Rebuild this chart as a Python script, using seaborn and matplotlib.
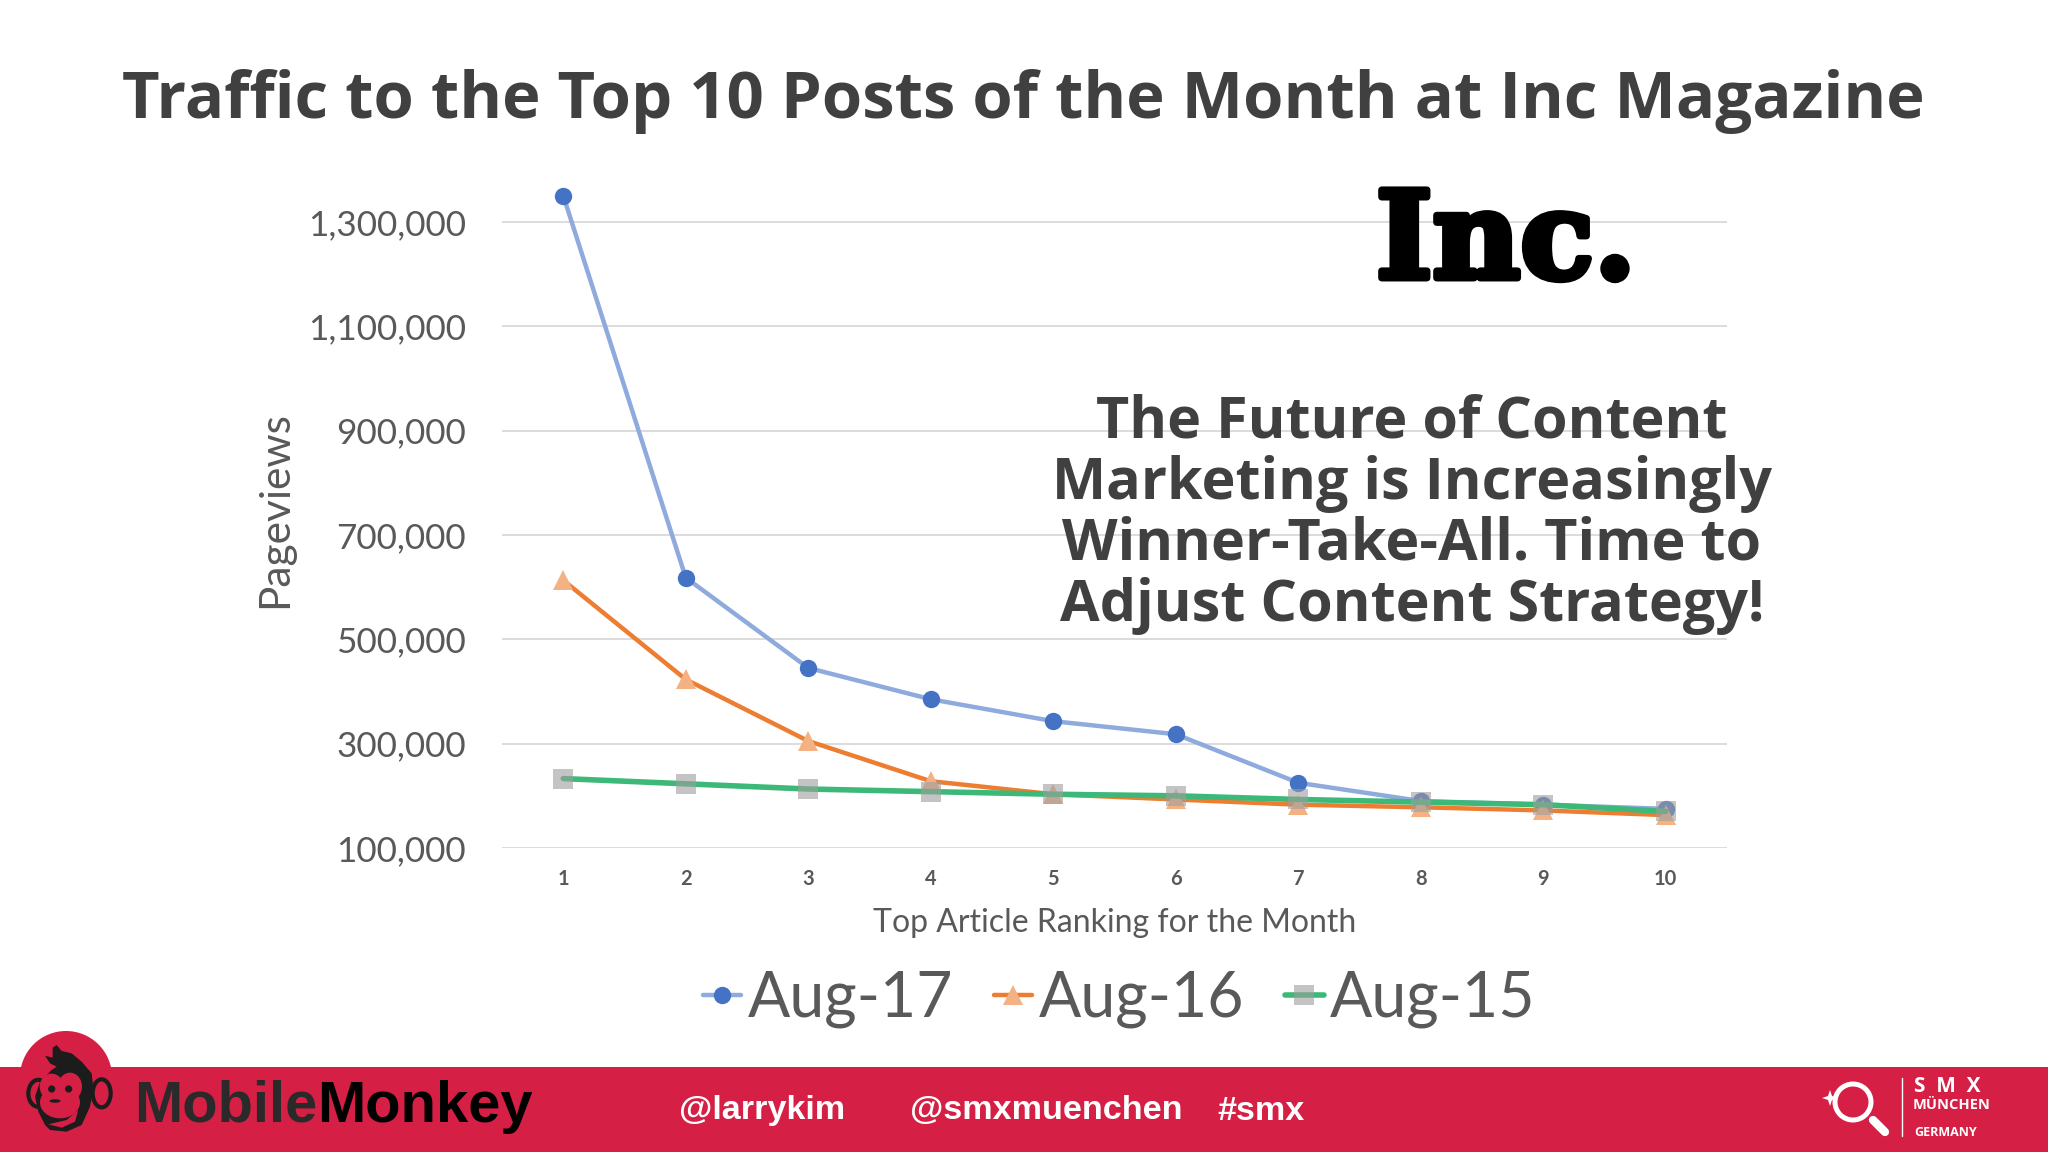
import matplotlib
matplotlib.use("Agg")
import matplotlib.pyplot as plt
import matplotlib.patheffects as pe
from matplotlib.patches import Circle, Ellipse, Polygon, Rectangle
from matplotlib.ticker import FuncFormatter
import seaborn as sns

ranks = [1, 2, 3, 4, 5, 6, 7, 8, 9, 10]
aug_17 = [1350000, 618000, 445000, 385000, 343000, 318000, 225000, 190000, 183000, 175000]
aug_16 = [613000, 423000, 305000, 228000, 203000, 193000, 183000, 178000, 172000, 163000]
aug_15 = [233000, 223000, 213000, 208000, 203000, 200000, 193000, 188000, 183000, 170000]
y_ticks = [100000, 300000, 500000, 700000, 900000, 1100000, 1300000]

W, H = 2048, 1152
DARK = "#404040"
GREY = "#595959"
RED = "#d61f45"

sns.set_theme(style="white")
plt.rcParams["font.family"] = ["Lato", "DejaVu Sans"]

fig = plt.figure(figsize=(W / 100, H / 100), dpi=100, facecolor="white")

# chart area, ylim is chosen so the 100k gridline sits on the bottom edge
top_px, bottom_px, left_px, right_px = 180, 848, 502, 1727
ax = fig.add_axes([left_px / W, 1 - bottom_px / H, (right_px - left_px) / W, (bottom_px - top_px) / H])

sns.lineplot(x=ranks, y=aug_17, ax=ax, color="#8faadc", lw=3.2, marker="o", ms=12.5,
             markerfacecolor="#4472c4", markeredgewidth=0, label="Aug-17", errorbar=None, zorder=3)
sns.lineplot(x=ranks, y=aug_16, ax=ax, color="#ed7d31", lw=3.2, marker="^", ms=14,
             markerfacecolor="#f4b183", markeredgewidth=0, label="Aug-16", errorbar=None, zorder=4)
sns.lineplot(x=ranks, y=aug_15, ax=ax, color="#3cb878", lw=4, marker="s", ms=14.5,
             markerfacecolor=(0.62, 0.62, 0.62, 0.6), markeredgewidth=0, label="Aug-15", errorbar=None, zorder=5)

ax.set_xlim(0.5, 10.5)
ax.set_ylim(100000, 1380000)
ax.set_xticks(ranks)
ax.set_yticks(y_ticks)
ax.yaxis.set_major_formatter(FuncFormatter(lambda v, _: f"{int(v):,}"))
ax.grid(axis="y", color="#d9d9d9", lw=1.3)
ax.grid(axis="x", visible=False)
ax.set_axisbelow(True)
sns.despine(ax=ax, left=True, top=True, right=True, bottom=True)
ax.tick_params(axis="y", length=0, labelsize=25.3, labelcolor=GREY, pad=26)
ax.tick_params(axis="x", length=0, labelsize=14.5, labelcolor=GREY, pad=15)
for lab in ax.get_xticklabels():
    lab.set_fontweight("bold")
ax.set_xlabel("Top Article Ranking for the Month", fontsize=23, color=GREY, labelpad=14)
ax.set_ylabel("Pageviews", fontsize=30.5, color=GREY, labelpad=10, y=0.507)

handles, labels = ax.get_legend_handles_labels()
ax.get_legend().remove()
fig.legend(handles, labels, loc="center", bbox_to_anchor=(1119 / W, 1 - 999 / H), ncol=3, frameon=False,
           fontsize=45, labelcolor=GREY, handlelength=0.62, handletextpad=0.1, columnspacing=0.65)

# overlay in pixel coordinates for the slide furniture
deco = fig.add_axes([0, 0, 1, 1], zorder=10)
deco.set_xlim(0, W)
deco.set_ylim(H, 0)
deco.axis("off")

deco.text(1023, 102, "Traffic to the Top 10 Posts of the Month at Inc Magazine", ha="center", va="center",
          fontsize=47, fontweight="bold", color=DARK, family="Open Sans")

deco.text(1506, 244, "Inc.", ha="center", va="center", fontsize=87, fontweight="bold", color="black",
          family="DejaVu Serif", path_effects=[pe.withStroke(linewidth=5, foreground="black")])

callout = ["The Future of Content", "Marketing is Increasingly", "Winner-Take-All. Time to", "Adjust Content Strategy!"]
callout_x = [1412, 1412, 1412, 1412]
callout_y = [423, 484, 545, 606]
for line, cx, cy in zip(callout, callout_x, callout_y):
    deco.text(cx, cy, line, ha="center", va="center", fontsize=41.4, fontweight="bold", color=DARK,
              family="Open Sans")

# footer band
deco.add_patch(Circle((66, 1077), 46, color=RED, lw=0))
deco.add_patch(Rectangle((0, 1067), W, H - 1067, color=RED, lw=0))


# monkey badge, sketched in crop coordinates (3x, origin at 10,1025)
def mk(x, y):
    return (x / 3 + 10, y / 3 + 1025)


ink = "#1c1c1c"
deco.add_patch(Ellipse(mk(85, 205), 20, 27, fc=RED, ec=ink, lw=3))
deco.add_patch(Ellipse(mk(275, 205), 18, 28, fc=RED, ec=ink, lw=3))
head = [(105, 92), (128, 98), (128, 68), (140, 60), (155, 78), (185, 85), (215, 110), (245, 145), (250, 190),
        (240, 245), (215, 300), (170, 320), (120, 315), (105, 300), (85, 260), (75, 215), (90, 170), (125, 135),
        (140, 125), (120, 115)]
deco.add_patch(Polygon([mk(*p) for p in head], color=ink, lw=0))
deco.add_patch(Ellipse(mk(125, 185), 24, 26, color=RED, lw=0))
deco.add_patch(Ellipse(mk(180, 185), 24, 28, color=RED, lw=0))
deco.add_patch(Ellipse(mk(150, 232), 40, 32, color=RED, lw=0))
deco.add_patch(Polygon([mk(*p) for p in [(115, 298), (170, 285), (205, 255), (195, 290), (155, 308)]], color=RED, lw=0))
deco.add_patch(Circle(mk(125, 192), 3.6, color=ink, lw=0))
deco.add_patch(Circle(mk(176, 192), 3.6, color=ink, lw=0))
deco.add_patch(Ellipse(mk(135, 228), 11, 3.5, color=ink, lw=0))

mobile = deco.text(134, 1107, "Mobile", ha="left", va="center", fontsize=41.7, fontweight="bold", color="#2a2a2a",
                   family="Liberation Sans")
fig.canvas.draw()
mobile_box = mobile.get_window_extent()
deco.text(mobile_box.x1, 1107, "Monkey", ha="left", va="center", fontsize=41.7, fontweight="bold", color="black",
          family="Liberation Sans")

footer_tags = ["@larrykim", "@smxmuenchen", "#smx"]
footer_x = [679, 910, 1217]
for tag, tx in zip(footer_tags, footer_x):
    deco.text(tx, 1111, tag, ha="left", va="center", fontsize=24.6, fontweight="bold", color="white",
              family="Liberation Sans")

# SMX magnifier logo
deco.add_patch(Circle((1853, 1102), 18, fc="none", ec="white", lw=3.6))
deco.plot([1873, 1885], [1120, 1132], color="white", lw=6, solid_capstyle="round")
star = [(1830, 1090), (1832, 1096), (1838, 1098), (1832, 1100), (1830, 1106), (1828, 1100), (1822, 1098), (1828, 1096)]
deco.add_patch(Polygon(star, color="white", lw=0))
deco.plot([1902, 1902], [1078, 1136], color="white", lw=1)
deco.text(1914, 1087, "S  M  X", ha="left", va="center", fontsize=15, fontweight="bold", color="white",
          family="Open Sans")
deco.text(1913, 1105, "MÜNCHEN", ha="left", va="center", fontsize=10.5, fontweight="bold", color="white",
          family="Open Sans")
deco.text(1914, 1132, "GERMANY", ha="left", va="center", fontsize=9, fontweight="bold", color="white",
          family="Open Sans")

fig.savefig("out.png", dpi=100, facecolor="white")
